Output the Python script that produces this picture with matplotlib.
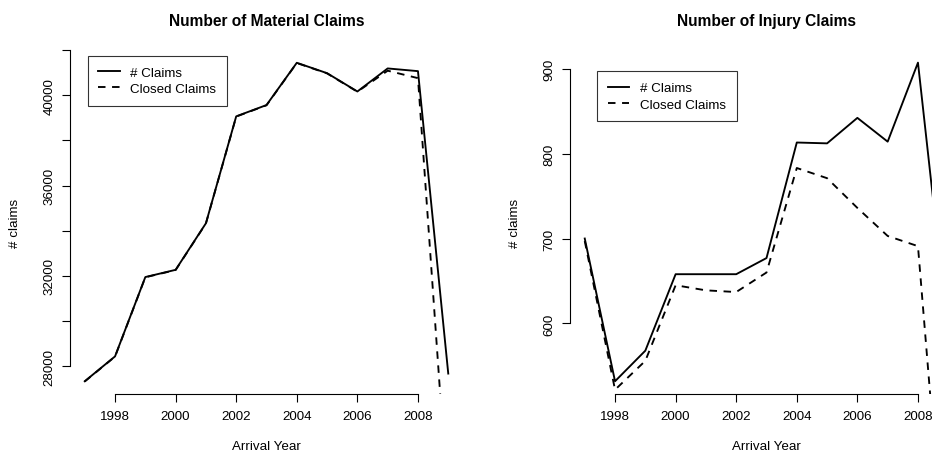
import matplotlib
matplotlib.use("Agg")
import matplotlib.pyplot as plt

plt.rcParams['font.family'] = ['Liberation Sans', 'DejaVu Sans']

years = list(range(1997, 2010))

material_claims = [27340, 28440, 31950, 32270, 34330, 39060, 39560, 41430, 40970, 40160, 41180, 41060, 27680]
material_closed = [27330, 28430, 31940, 32260, 34320, 39050, 39550, 41420, 40960, 40150, 41080, 40750, 21700]

injury_claims = [700, 532, 568, 658, 658, 658, 677, 813, 812, 842, 814, 907, 585]
injury_closed = [697, 522, 556, 645, 639, 637, 660, 783, 771, 736, 703, 691, 258]

x_ticks = [1998, 2000, 2002, 2004, 2006, 2008]
material_ticks = [28000, 30000, 32000, 34000, 36000, 38000, 40000, 42000]
material_labels = ['28000', '', '32000', '', '36000', '', '40000', '']
injury_ticks = [600, 700, 800, 900]
injury_labels = ['600', '700', '800', '900']

W, H = 932, 460
fig = plt.figure(figsize=(W / 100, H / 100), dpi=100)

FS = 9.6  # ~13 px


def r_style_axes(left_px, title, claims, closed, yticks, ylabels, legend_xy):
    ax = fig.add_axes([left_px / W, (H - 395) / H, 392.6 / W, 344.1 / H])
    ax.plot(years, claims, color='black', lw=1.35, label='# Claims')
    ax.plot(years, closed, color='black', lw=1.35, linestyle=(0, (4, 3.5)), label='Closed Claims')

    # R default: data range + 4%
    lo, hi = min(claims), max(claims)
    pad = 0.04 * (hi - lo)
    ax.set_ylim(lo - pad, hi + pad)
    ax.set_xlim(1997 - 0.04 * 12, 2009 + 0.04 * 12)

    for s in ['top', 'right']:
        ax.spines[s].set_visible(False)
    ax.spines['left'].set_bounds(yticks[0], yticks[-1])
    ax.spines['bottom'].set_bounds(x_ticks[0], x_ticks[-1])
    for s in ['left', 'bottom']:
        ax.spines[s].set_linewidth(0.8)

    ax.set_xticks(x_ticks)
    ax.set_xticklabels([str(t) for t in x_ticks])
    ax.set_yticks(yticks)
    ax.set_yticklabels(ylabels, rotation=90, va='center')
    ax.tick_params(axis='both', direction='out', length=5.8, width=0.8, labelsize=FS)
    ax.tick_params(axis='x', pad=5.5)
    ax.tick_params(axis='y', pad=5)

    ax.set_title(title, fontsize=11.2, fontweight='bold', pad=18)
    ax.set_xlabel('Arrival Year', fontsize=FS)
    ax.xaxis.set_label_coords(0.5, -0.135)
    ax.set_ylabel('# claims', fontsize=FS)
    ax.yaxis.set_label_coords(-0.125, 0.5)

    leg = ax.legend(loc='upper left', bbox_to_anchor=(legend_xy[0] / W, 1 - legend_xy[1] / H),
                    bbox_transform=fig.transFigure, fontsize=FS, frameon=True, fancybox=False,
                    borderaxespad=0, borderpad=0.8, labelspacing=0.3, handlelength=1.6,
                    handletextpad=0.8)
    leg.get_frame().set_edgecolor('black')
    leg.get_frame().set_linewidth(0.8)
    return ax


r_style_axes(70.2, 'Number of Material Claims', material_claims, material_closed,
             material_ticks, material_labels, (87.7, 56.7))
r_style_axes(570.2, 'Number of Injury Claims', injury_claims, injury_closed,
             injury_ticks, injury_labels, (597.3, 72.3))

fig.savefig('out.png', dpi=100)
